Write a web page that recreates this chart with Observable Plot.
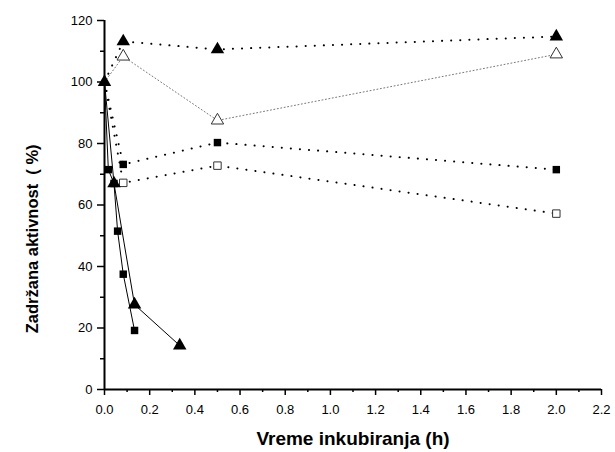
<!DOCTYPE html>
<html>
<head>
<meta charset="utf-8">
<script src="https://cdn.jsdelivr.net/npm/d3@7"></script>
<script src="https://cdn.jsdelivr.net/npm/@observablehq/plot@0.6"></script>
<style>
  html, body { margin: 0; padding: 0; background: #fff; }
  #chart { width: 615px; height: 452px; }
</style>
</head>
<body>
<div id="chart"></div>
<script>
// Time (h) and retained activity (%) per series
const timeFilledTriDot = [0, 0.083, 0.5, 2.0];
const valFilledTriDot  = [100, 113.2, 110.6, 114.8];

const timeOpenTriDot = [0, 0.083, 0.5, 2.0];
const valOpenTriDot  = [100, 108.3, 87.5, 109];

const timeFilledSqDot = [0, 0.083, 0.5, 2.0];
const valFilledSqDot  = [100, 73.2, 80.3, 71.5];

const timeOpenSqDot = [0, 0.083, 0.5, 2.0];
const valOpenSqDot  = [100, 67.2, 72.8, 57.2];

const timeFilledSqSolid = [0, 0.017, 0.042, 0.058, 0.083, 0.133];
const valFilledSqSolid  = [100, 71.5, 67, 51.5, 37.5, 19.2];

const timeFilledTriSolid = [0, 0.042, 0.133, 0.333];
const valFilledTriSolid  = [100, 67, 27.6, 14.3];

const xTicks = [0.0, 0.2, 0.4, 0.6, 0.8, 1.0, 1.2, 1.4, 1.6, 1.8, 2.0, 2.2];
const xMinorTicks = [0.1, 0.3, 0.5, 0.7, 0.9, 1.1, 1.3, 1.5, 1.7, 1.9, 2.1];
const yTicks = [0, 20, 40, 60, 80, 100, 120];
const yMinorTicks = [10, 30, 50, 70, 90, 110];

const xLabel = "Vreme inkubiranja (h)";
const yLabel = "Zadržana aktivnost  ( %)";

const pts = (xs, ys) => xs.map((x, i) => ({x, y: ys[i]}));

const sFTD = pts(timeFilledTriDot, valFilledTriDot);
const sOTD = pts(timeOpenTriDot, valOpenTriDot);
const sFSD = pts(timeFilledSqDot, valFilledSqDot);
const sOSD = pts(timeOpenSqDot, valOpenSqDot);
const sFSS = pts(timeFilledSqSolid, valFilledSqSolid);
const sFTS = pts(timeFilledTriSolid, valFilledTriSolid);

const blackDots = {stroke: "#000", strokeWidth: 2, strokeDasharray: "0.1,9", strokeLinecap: "round"};

const chart = Plot.plot({
  width: 615,
  height: 452,
  marginLeft: 104,
  marginRight: 14,
  marginTop: 20,
  marginBottom: 63,
  style: {fontFamily: "Liberation Sans, Arial, sans-serif", fontSize: "13px", color: "#000", background: "#fff"},
  x: {domain: [0, 2.2]},
  y: {domain: [0, 120]},
  marks: [
    // axes
    Plot.axisX({ticks: xTicks, tickFormat: d3.format(".1f"), tickSize: 6, tickPadding: 9, label: null, strokeWidth: 1.5}),
    Plot.axisX({ticks: xMinorTicks, tickFormat: () => "", tickSize: 3, label: null, strokeWidth: 1.5}),
    Plot.axisY({ticks: yTicks, tickSize: 7, tickPadding: 5, label: null, strokeWidth: 1.5}),
    Plot.axisY({ticks: yMinorTicks, tickFormat: () => "", tickSize: 4, label: null, strokeWidth: 1.5}),
    Plot.ruleY([0], {x1: 0, x2: 2.2, stroke: "#000", strokeWidth: 2}),
    Plot.ruleX([0], {y1: 0, y2: 120, stroke: "#000", strokeWidth: 2}),
    // lines
    Plot.line(sFTD, {x: "x", y: "y", ...blackDots}),
    Plot.line(sOTD, {x: "x", y: "y", stroke: "#777", strokeWidth: 1, strokeDasharray: "1,2.5"}),
    Plot.line(sFSD, {x: "x", y: "y", ...blackDots}),
    Plot.line(sOSD, {x: "x", y: "y", ...blackDots}),
    Plot.line(sFSS, {x: "x", y: "y", stroke: "#000", strokeWidth: 1}),
    Plot.line(sFTS, {x: "x", y: "y", stroke: "#000", strokeWidth: 1}),
    // markers
    Plot.dot(sFTD, {x: "x", y: "y", symbol: "triangle", r: 5, fill: "#000"}),
    Plot.dot(sOTD.slice(1), {x: "x", y: "y", symbol: "triangle", r: 4.6, fill: "#fff", stroke: "#333", strokeWidth: 1}),
    Plot.dot(sFSD.slice(1), {x: "x", y: "y", symbol: "square", r: 4.2, fill: "#000"}),
    Plot.dot(sOSD.slice(1), {x: "x", y: "y", symbol: "square", r: 4.2, fill: "#fff", stroke: "#333", strokeWidth: 1}),
    Plot.dot(sFSS.slice(1), {x: "x", y: "y", symbol: "square", r: 4.2, fill: "#000"}),
    Plot.dot(sFTS.slice(1), {x: "x", y: "y", symbol: "triangle", r: 5, fill: "#000"}),
    // axis titles
    Plot.text([xLabel], {frameAnchor: "bottom", dy: 55, fontSize: 19, fontWeight: "bold", fill: "#000"}),
    Plot.text([yLabel], {y: () => 49, frameAnchor: "left", textAnchor: "middle", rotate: -90, dx: -72, fontSize: 16.5, fontWeight: "bold", fill: "#000"})
  ]
});
document.getElementById("chart").appendChild(chart);
</script>
</body>
</html>
